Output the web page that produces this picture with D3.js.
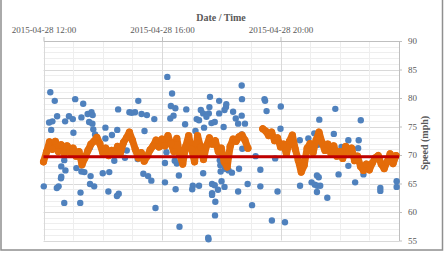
<!DOCTYPE html>
<html>
<head>
<meta charset="utf-8">
<script src="https://cdn.jsdelivr.net/npm/d3@7"></script>
<style>
  body { margin: 0; background: #fff; }
  svg { display: block; font-family: "Liberation Serif", "DejaVu Serif", serif; }
</style>
</head>
<body>
<svg id="chart" width="446" height="255"></svg>
<script>
// raw speed readings (hour of day, mph)
var blueTime = [12.23, 12.38, 13.07, 13.34, 12.46, 12.19, 12.30, 12.26, 12.73, 12.86, 12.99, 13.28, 13.01, 13.49, 13.62, 13.66,
  13.54, 13.65, 13.68, 13.74, 13.80, 14.09, 14.52, 14.49, 14.31, 14.09, 15.20, 14.90, 15.09, 14.98, 15.31, 15.49,
  15.74, 15.41, 16.18, 16.34, 16.30, 16.45, 16.28, 16.39, 16.82, 16.78, 17.13, 17.31, 17.39, 17.58, 17.50, 17.17,
  17.25, 17.62, 17.60, 17.67, 17.78, 17.93, 17.93, 17.42, 18.11, 18.17, 18.16, 18.40, 18.49, 18.57, 18.69, 18.80,
  18.08, 18.69, 18.70, 18.69, 18.71, 19.46, 19.48, 19.53, 20.01, 20.00, 19.16, 19.82, 20.65, 20.94, 21.31, 21.14,
  21.32, 21.80, 21.85, 22.06, 22.29, 22.64, 22.71, 22.62, 22.29, 22.80, 22.52, 23.37, 23.37, 23.92, 23.92, 21.96,
  20.66, 21.05, 21.23, 21.29, 21.16, 21.24, 21.34, 21.23, 21.58, 20.15, 19.71, 19.90, 19.32, 19.32, 19.04, 18.89,
  18.57, 18.60, 18.25, 18.36, 18.13, 17.98, 18.01, 18.11, 17.97, 12.01, 12.45, 12.51, 12.59, 12.60, 12.60, 12.74,
  12.70, 12.70, 13.24, 13.25, 13.11, 13.28, 13.38, 13.59, 13.57, 13.71, 14.00, 14.22, 14.19, 14.48, 14.54, 14.39,
  14.75, 15.18, 15.37, 15.53, 15.64, 15.78, 16.10, 16.10, 16.46, 16.57, 16.59, 16.43, 16.50, 17.04, 17.02, 17.25,
  17.39, 17.69, 17.78, 17.69, 17.69, 17.89, 17.80, 17.79, 17.56, 17.57, 17.95, 13.57, 14.81, 16.15, 21.26, 16.60, 17.42];
var blueSpeed = [81.0, 79.5, 79.8, 79.0, 76.8, 75.7, 75.9, 74.4, 75.9, 76.8, 76.3, 76.6, 73.9, 77.2, 77.5, 77.0,
  75.8, 75.5, 74.5, 73.6, 72.8, 74.8, 78.0, 74.4, 73.5, 72.9, 79.5, 77.5, 77.5, 77.4, 77.2, 77.0,
  76.3, 74.2, 83.7, 80.8, 78.6, 78.2, 76.4, 76.9, 78.0, 75.4, 74.2, 77.9, 77.3, 77.3, 76.7, 76.3,
  76.1, 80.2, 78.4, 75.6, 75.8, 79.5, 77.3, 74.8, 77.9, 78.9, 78.4, 77.6, 76.4, 75.5, 76.9, 75.5,
  74.9, 82.2, 79.8, 73.6, 71.1, 79.8, 79.5, 77.7, 78.5, 74.6, 69.8, 69.4, 72.6, 72.9, 76.2, 73.8,
  73.6, 73.7, 78.1, 71.4, 72.6, 72.6, 76.1, 71.2, 68.1, 66.6, 65.2, 64.2, 63.7, 65.4, 64.4, 66.6,
  64.6, 65.2, 66.4, 66.1, 64.8, 64.6, 64.6, 63.5, 62.5, 58.2, 58.5, 63.6, 67.4, 64.5, 61.2, 64.9,
  63.6, 67.6, 67.3, 66.9, 67.6, 67.1, 65.4, 64.4, 68.2, 64.5, 64.2, 64.5, 65.9, 66.2, 68.0, 67.3,
  69.1, 61.6, 61.6, 63.4, 67.7, 67.1, 67.0, 66.3, 64.9, 64.5, 66.8, 67.0, 63.6, 62.8, 63.2, 69.0,
  69.5, 69.3, 66.7, 66.3, 65.5, 60.7, 65.2, 68.6, 64.0, 66.4, 57.4, 69.0, 68.5, 64.6, 64.0, 64.6,
  66.8, 64.9, 64.7, 63.3, 63.0, 63.9, 61.8, 59.4, 55.5, 55.2, 69.1, 71.3, 70.8, 70.5, 71.8, 70.3, 69.8];

// smoothed speed, every 6 minutes from 12:00 (null = no data)
var orangeSpeed = [68.8, 70.5, 72.3, 71.0, 72.4, 70.6, 71.8, 70.3, 71.6, 70.4,
  71.2, 69.8, 70.6, 68.3, 69.5, 70.8, 71.9, 72.4, 73.1, 72.0,
  70.4, 71.2, 69.9, 70.8, 70.2, 71.5, 70.4, 72.2, 73.0, 74.0,
  72.6, 71.0, 69.5, 70.4, 68.9, 69.8, 70.9, 71.6, 72.6, 71.4,
  72.8, 71.6, 73.4, 72.0, 70.6, 72.9, 70.0, 68.4, 71.5, 73.4,
  71.0, 68.8, 73.4, 71.4, 69.2, 71.6, 73.0, 71.9, 72.5, 70.6,
  71.2, 68.8, 67.9, 71.5, 72.8, 72.4, 73.2, 73.5, 72.6, 71.2,
  null, null, null, null, 74.6, 74.2, 73.4, 74.0, 72.5, 73.0,
  71.4, 71.9, 70.2, 72.4, 73.5, 71.0, 69.1, 67.0, 68.2, 71.2,
  72.0, 70.4, 72.6, 74.0, 72.2, 70.8, 71.9, 70.3, 71.6, 69.8,
  70.6, 69.4, 71.5, 70.5, 71.2, 69.0, 69.8, 68.0, 67.3, 68.4,
  67.4, 68.6, 69.5, 69.9, 68.4, 67.6, 68.8, 70.2, 68.5, 69.9];
var orangeStartHour = 12, orangeStepHours = 0.1;

var averageSpeed = 69.7;

var xTicks = [12, 16, 20];
var yTicks = [55, 60, 65, 70, 75, 80, 85, 90];

var xTitle = "Date / Time", yTitle = "Speed (mph)";

function toDate(h) { return new Date(2015, 3, 28, 0, 0, 0, h * 3600000); }

var svg = d3.select("#chart");

var plotLeft = 43.5, plotRight = 399, plotTop = 41, plotBottom = 240.5;

var x = d3.scaleTime()
  .domain([toDate(12), toDate(24)])
  .range([plotLeft, plotRight]);

var y = d3.scaleLinear()
  .domain([55, 90])
  .range([plotBottom, plotTop]);

// outer frame
svg.append("rect")
  .attr("x", 1).attr("y", -2)
  .attr("width", 441.5).attr("height", 252)
  .attr("fill", "none")
  .attr("stroke", "#8f8f8f")
  .attr("stroke-width", 1.5);

// grid
svg.append("g").selectAll("line")
  .data(d3.range(55, 91))
  .enter().append("line")
  .attr("x1", plotLeft).attr("x2", plotRight)
  .attr("y1", function(d) { return Math.round(y(d)) + 0.5; })
  .attr("y2", function(d) { return Math.round(y(d)) + 0.5; })
  .attr("stroke", function(d) { return d % 5 == 0 ? "#d9d9d9" : "#eeeeee"; });

svg.append("g").selectAll("line")
  .data(d3.range(12, 25))
  .enter().append("line")
  .attr("x1", function(d) { return Math.round(x(toDate(d))) + 0.5; })
  .attr("x2", function(d) { return Math.round(x(toDate(d))) + 0.5; })
  .attr("y1", plotTop).attr("y2", plotBottom)
  .attr("stroke", function(d) { return d % 4 == 0 ? "#d9d9d9" : "#eeeeee"; });

// axes
var xAxis = svg.append("g")
  .attr("transform", "translate(0," + plotTop + ")")
  .call(d3.axisTop(x)
    .tickValues(xTicks.map(toDate))
    .tickFormat(d3.timeFormat("%Y-%m-%d %H:%M"))
    .tickSize(4)
    .tickPadding(4)
    .tickSizeOuter(0));

var yAxis = svg.append("g")
  .attr("transform", "translate(" + plotRight + ",0)")
  .call(d3.axisRight(y)
    .tickValues(yTicks)
    .tickSize(3)
    .tickPadding(6)
    .tickSizeOuter(0));

[xAxis, yAxis].forEach(function(a) {
  a.select(".domain").attr("stroke", "#bfbfbf");
  a.selectAll(".tick line").attr("stroke", "#bfbfbf");
  a.selectAll("text")
    .attr("fill", "#595959")
    .style("font-family", "Liberation Serif")
    .style("font-size", "9px");
});

svg.append("text")
  .attr("x", 221).attr("y", 20.5)
  .attr("text-anchor", "middle")
  .attr("fill", "#595959")
  .style("font-size", "10px")
  .style("font-weight", "bold")
  .text(xTitle);

svg.append("text")
  .attr("transform", "translate(428,143) rotate(-90)")
  .attr("text-anchor", "middle")
  .attr("fill", "#595959")
  .style("font-size", "10px")
  .style("font-weight", "bold")
  .text(yTitle);

// raw readings
svg.append("g").selectAll("circle")
  .data(blueTime)
  .enter().append("circle")
  .attr("cx", function(d) { return x(toDate(d)); })
  .attr("cy", function(d, i) { return y(blueSpeed[i]); })
  .attr("r", 3.2)
  .attr("fill", "#4f81bd");

// smoothed series
var orange = orangeSpeed.map(function(v, i) {
  return { t: toDate(orangeStartHour + i * orangeStepHours), v: v };
});

svg.append("path")
  .datum(orange)
  .attr("fill", "none")
  .attr("stroke", "#e46c0a")
  .attr("stroke-width", 7)
  .attr("stroke-linejoin", "round")
  .attr("stroke-linecap", "round")
  .attr("d", d3.line()
    .defined(function(d) { return d.v != null; })
    .x(function(d) { return x(d.t); })
    .y(function(d) { return y(d.v); }));

svg.append("g").selectAll("circle")
  .data(orange.filter(function(d) { return d.v != null; }))
  .enter().append("circle")
  .attr("cx", function(d) { return x(d.t); })
  .attr("cy", function(d) { return y(d.v); })
  .attr("r", 3.6)
  .attr("fill", "#e46c0a");

// average line
svg.append("line")
  .attr("x1", x(toDate(12))).attr("x2", x(toDate(24)))
  .attr("y1", y(averageSpeed)).attr("y2", y(averageSpeed))
  .attr("stroke", "#c00000")
  .attr("stroke-width", 3);
</script>
</body>
</html>
